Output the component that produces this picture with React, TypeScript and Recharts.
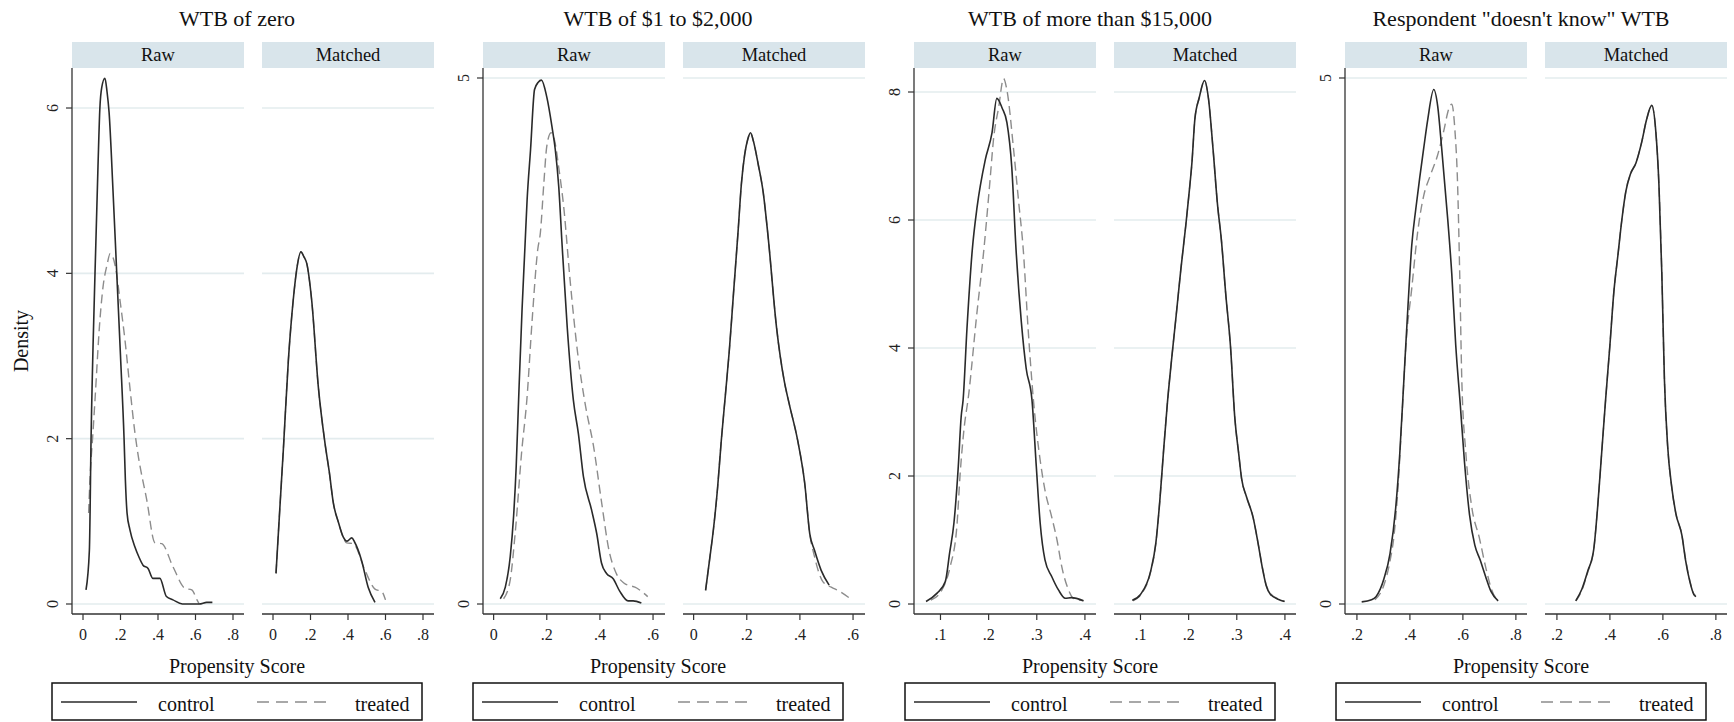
import { LineChart, Line, XAxis, YAxis, ReferenceLine } from 'recharts'

type Pt = [number, number]

const panelTitles = ['WTB of zero', 'WTB of $1 to $2,000', 'WTB of more than $15,000', 'Respondent "doesn\'t know" WTB']
const facetLabels = ['Raw', 'Matched']
const seriesNames = ['control', 'treated']
const xTitle = 'Propensity Score'
const yTitle = 'Density'

// WTB of zero
const zeroRawControl: Pt[] = [
  [0.016, 0.17], [0.034, 0.65], [0.043, 2.0], [0.064, 4.0], [0.08, 5.3], [0.09, 6.0], [0.1, 6.25],
  [0.117, 6.36], [0.128, 6.2], [0.139, 5.95], [0.16, 5.0], [0.18, 4.0], [0.2, 3.0], [0.219, 2.0],
  [0.226, 1.5], [0.235, 1.1], [0.25, 0.9], [0.277, 0.69], [0.3, 0.56], [0.32, 0.47], [0.347, 0.43],
  [0.373, 0.31], [0.41, 0.31], [0.445, 0.09], [0.48, 0.05], [0.53, 0], [0.62, 0], [0.66, 0.02], [0.69, 0.02],
]
const zeroRawTreated: Pt[] = [
  [0.03, 1.1], [0.037, 1.5], [0.053, 2.07], [0.064, 2.47], [0.09, 3.43], [0.107, 3.84], [0.128, 4.1],
  [0.145, 4.24], [0.155, 4.22], [0.176, 4.04], [0.197, 3.68], [0.224, 3.19], [0.25, 2.62], [0.277, 2.07],
  [0.29, 1.86], [0.34, 1.26], [0.384, 0.74], [0.42, 0.73], [0.48, 0.45], [0.544, 0.19], [0.58, 0.17],
  [0.608, 0.05], [0.62, 0],
]
const zeroMatchedControl: Pt[] = [
  [0.016, 0.37], [0.037, 1.18], [0.055, 1.86], [0.082, 2.95], [0.108, 3.68], [0.126, 4.04], [0.149, 4.26],
  [0.165, 4.2], [0.18, 4.12], [0.206, 3.68], [0.242, 2.62], [0.277, 1.95], [0.3, 1.6], [0.322, 1.22],
  [0.35, 0.98], [0.375, 0.81], [0.395, 0.76], [0.42, 0.8], [0.435, 0.75], [0.472, 0.53], [0.508, 0.2], [0.544, 0.02],
]
const zeroMatchedTreated: Pt[] = [
  [0.016, 0.37], [0.037, 1.18], [0.055, 1.86], [0.082, 2.95], [0.108, 3.68], [0.126, 4.04], [0.149, 4.26],
  [0.165, 4.2], [0.18, 4.12], [0.206, 3.68], [0.242, 2.62], [0.277, 1.95], [0.3, 1.6], [0.322, 1.22],
  [0.35, 0.98], [0.375, 0.8], [0.393, 0.74], [0.428, 0.73], [0.49, 0.41], [0.544, 0.18], [0.58, 0.15], [0.6, 0.05],
]

// WTB of $1 to $2,000
const lowRawControl: Pt[] = [
  [0.025, 0.05], [0.044, 0.16], [0.0625, 0.45], [0.075, 0.83], [0.085, 1.31], [0.094, 1.94], [0.107, 2.8],
  [0.118, 3.4], [0.126, 3.84], [0.139, 4.32], [0.154, 4.89], [0.168, 4.96], [0.18, 4.98], [0.2, 4.82],
  [0.22, 4.53], [0.232, 4.32], [0.245, 3.97], [0.258, 3.4], [0.277, 2.63], [0.3, 1.94], [0.319, 1.62],
  [0.338, 1.21], [0.369, 0.89], [0.388, 0.67], [0.406, 0.39], [0.425, 0.29], [0.45, 0.24], [0.475, 0.12],
  [0.506, 0.03], [0.525, 0.03], [0.556, 0.01],
]
const lowRawTreated: Pt[] = [
  [0.0375, 0.05], [0.0625, 0.23], [0.081, 0.67], [0.106, 1.46], [0.125, 1.94], [0.145, 2.7], [0.166, 3.37],
  [0.176, 3.53], [0.189, 4.0], [0.2, 4.35], [0.216, 4.48], [0.23, 4.4], [0.245, 4.15], [0.264, 3.77],
  [0.287, 3.1], [0.316, 2.39], [0.346, 1.88], [0.376, 1.5], [0.405, 0.99], [0.435, 0.5], [0.46, 0.3],
  [0.49, 0.2], [0.54, 0.15], [0.58, 0.07],
]
const lowMatchedControl: Pt[] = [
  [0.045, 0.13], [0.06, 0.42], [0.075, 0.72], [0.09, 1.1], [0.104, 1.55], [0.12, 2.0], [0.134, 2.4],
  [0.15, 2.95], [0.167, 3.53], [0.18, 4.0], [0.192, 4.27], [0.204, 4.42], [0.214, 4.48], [0.225, 4.4],
  [0.243, 4.18], [0.262, 3.91], [0.28, 3.5], [0.312, 2.63], [0.341, 2.12], [0.36, 1.9], [0.392, 1.55],
  [0.418, 1.15], [0.437, 0.67], [0.455, 0.51], [0.48, 0.32], [0.51, 0.18],
]
const lowMatchedTreated: Pt[] = [
  [0.045, 0.13], [0.06, 0.42], [0.075, 0.72], [0.09, 1.1], [0.104, 1.55], [0.12, 2.0], [0.134, 2.4],
  [0.15, 2.95], [0.167, 3.53], [0.18, 4.0], [0.192, 4.27], [0.204, 4.42], [0.214, 4.48], [0.225, 4.4],
  [0.243, 4.18], [0.262, 3.91], [0.28, 3.5], [0.312, 2.63], [0.341, 2.12], [0.36, 1.9], [0.392, 1.55],
  [0.418, 1.15], [0.437, 0.67], [0.455, 0.45], [0.487, 0.21], [0.518, 0.16], [0.55, 0.12], [0.585, 0.06],
]

// WTB of more than $15,000
const highRawControl: Pt[] = [
  [0.07, 0.04], [0.093, 0.17], [0.11, 0.35], [0.119, 0.8], [0.128, 1.27], [0.137, 2.15], [0.143, 2.93],
  [0.147, 3.19], [0.155, 4.3], [0.166, 5.53], [0.176, 6.2], [0.193, 6.94], [0.207, 7.36], [0.217, 7.9],
  [0.228, 7.75], [0.238, 7.52], [0.248, 6.83], [0.257, 5.53], [0.268, 4.4], [0.278, 3.68], [0.29, 3.19],
  [0.299, 2.15], [0.307, 1.27], [0.317, 0.69], [0.331, 0.43], [0.345, 0.22], [0.359, 0.09], [0.372, 0.1], [0.397, 0.05],
]
const highRawTreated: Pt[] = [
  [0.08, 0.06], [0.103, 0.22], [0.12, 0.58], [0.134, 1.21], [0.141, 2.05], [0.148, 2.67], [0.159, 3.3],
  [0.175, 4.5], [0.19, 5.53], [0.203, 6.63], [0.21, 7.25], [0.221, 7.77], [0.231, 8.21], [0.238, 8.03],
  [0.252, 7.09], [0.262, 6.31], [0.272, 5.53], [0.282, 4.3], [0.293, 3.19], [0.307, 2.25], [0.317, 1.78],
  [0.331, 1.36], [0.342, 1.0], [0.352, 0.58], [0.366, 0.22], [0.376, 0.09], [0.397, 0.05],
]
const highMatchedControl: Pt[] = [
  [0.083, 0.06], [0.1, 0.15], [0.121, 0.51], [0.132, 0.96], [0.14, 1.6], [0.148, 2.4], [0.156, 3.15],
  [0.165, 3.85], [0.174, 4.5], [0.184, 5.24], [0.194, 5.91], [0.2, 6.35], [0.207, 6.91], [0.213, 7.58],
  [0.222, 7.91], [0.233, 8.18], [0.241, 7.91], [0.251, 7.08], [0.26, 6.24], [0.268, 5.69], [0.277, 4.85],
  [0.287, 4.02], [0.296, 2.9], [0.304, 2.35], [0.31, 1.96], [0.32, 1.68], [0.334, 1.35], [0.344, 0.96],
  [0.353, 0.57], [0.361, 0.29], [0.37, 0.15], [0.387, 0.07], [0.399, 0.04],
]
const highMatchedTreated: Pt[] = [
  [0.084, 0.05], [0.1, 0.14], [0.121, 0.5], [0.132, 0.95], [0.14, 1.6], [0.148, 2.4], [0.156, 3.15],
  [0.165, 3.85], [0.174, 4.5], [0.184, 5.24], [0.194, 5.91], [0.2, 6.35], [0.207, 6.91], [0.213, 7.58],
  [0.222, 7.91], [0.233, 8.18], [0.241, 7.91], [0.251, 7.08], [0.26, 6.24], [0.268, 5.69], [0.277, 4.85],
  [0.287, 4.02], [0.296, 2.9], [0.304, 2.35], [0.31, 1.96], [0.32, 1.68], [0.334, 1.35], [0.344, 0.96],
  [0.353, 0.58], [0.361, 0.3], [0.37, 0.16], [0.389, 0.07], [0.4, 0.04],
]

// Respondent "doesn't know" WTB
const dkRawControl: Pt[] = [
  [0.218, 0.02], [0.255, 0.04], [0.272, 0.07], [0.302, 0.24], [0.325, 0.48], [0.347, 0.93], [0.362, 1.44],
  [0.377, 2.12], [0.392, 2.8], [0.407, 3.41], [0.422, 3.75], [0.437, 4.05], [0.452, 4.33], [0.467, 4.6],
  [0.49, 4.89], [0.505, 4.73], [0.52, 4.33], [0.543, 3.65], [0.558, 3.14], [0.573, 2.46], [0.59, 1.9],
  [0.606, 1.35], [0.625, 0.85], [0.645, 0.56], [0.665, 0.42], [0.686, 0.26], [0.706, 0.12], [0.733, 0.03],
]
const dkRawTreated: Pt[] = [
  [0.268, 0.04], [0.302, 0.18], [0.325, 0.41], [0.34, 0.65], [0.355, 1.1], [0.37, 1.78], [0.385, 2.46],
  [0.407, 3.0], [0.43, 3.55], [0.452, 3.88], [0.475, 4.06], [0.505, 4.27], [0.528, 4.5], [0.546, 4.7],
  [0.558, 4.75], [0.57, 4.5], [0.58, 3.99], [0.588, 3.14], [0.596, 2.12], [0.611, 1.44], [0.633, 0.93],
  [0.663, 0.62], [0.686, 0.35], [0.708, 0.14], [0.731, 0.03],
]
const dkMatchedControl: Pt[] = [
  [0.271, 0.03], [0.294, 0.14], [0.316, 0.31], [0.339, 0.52], [0.354, 0.93], [0.369, 1.44], [0.384, 1.95],
  [0.4, 2.46], [0.415, 2.97], [0.43, 3.31], [0.445, 3.65], [0.46, 3.92], [0.478, 4.09], [0.498, 4.19],
  [0.52, 4.39], [0.538, 4.6], [0.558, 4.74], [0.573, 4.5], [0.585, 3.99], [0.596, 3.14], [0.606, 2.12],
  [0.618, 1.5], [0.634, 1.1], [0.649, 0.86], [0.672, 0.65], [0.686, 0.41], [0.702, 0.21], [0.717, 0.09], [0.725, 0.07],
]
const dkMatchedTreated: Pt[] = [
  [0.272, 0.03], [0.294, 0.13], [0.316, 0.3], [0.339, 0.52], [0.354, 0.93], [0.369, 1.44], [0.384, 1.95],
  [0.4, 2.46], [0.415, 2.97], [0.43, 3.31], [0.445, 3.65], [0.46, 3.92], [0.478, 4.09], [0.498, 4.19],
  [0.52, 4.39], [0.538, 4.6], [0.558, 4.74], [0.573, 4.5], [0.585, 3.99], [0.596, 3.14], [0.606, 2.12],
  [0.618, 1.5], [0.634, 1.1], [0.649, 0.86], [0.672, 0.65], [0.686, 0.42], [0.702, 0.22], [0.716, 0.1], [0.724, 0.08],
]

const xTicksZero = [0, 0.2, 0.4, 0.6, 0.8]
const xTicksLow = [0, 0.2, 0.4, 0.6]
const xTicksHigh = [0.1, 0.2, 0.3, 0.4]
const xTicksDk = [0.2, 0.4, 0.6, 0.8]
const yTicksZero = [0, 2, 4, 6]
const yTicksLow = [0, 5]
const yTicksHigh = [0, 2, 4, 6, 8]
const yTicksDk = [0, 5]

const FONT = "'Liberation Serif', 'Times New Roman', serif"
const STRIP_TOP = 42
const STRIP_H = 26
const PLOT_TOP = 68
const PLOT_H = 546
const XAXIS_H = 40
const CONTROL = '#2a2a2a'
const TREATED = '#8c8c8c'
const AXIS = '#333333'
const GRID = '#e3ecee'

const toRows = (pts: Pt[]) => pts.map(([x, y]) => ({ x, y }))
const fmtX = (v: number) => (v === 0 ? '0' : String(v).replace(/^0/, ''))

const panels = [
  {
    center: 237, xDomain: [-0.0587, 0.8587], yDomain: [-0.121, 6.484], xTicks: xTicksZero, yTicks: yTicksZero,
    facets: [
      { left: 72, right: 244, control: zeroRawControl, treated: zeroRawTreated },
      { left: 262, right: 434, control: zeroMatchedControl, treated: zeroMatchedTreated },
    ],
  },
  {
    center: 658, xDomain: [-0.04, 0.645], yDomain: [-0.095, 5.095], xTicks: xTicksLow, yTicks: yTicksLow,
    facets: [
      { left: 483, right: 665, control: lowRawControl, treated: lowRawTreated },
      { left: 683, right: 865, control: lowMatchedControl, treated: lowMatchedTreated },
    ],
  },
  {
    center: 1090, xDomain: [0.045, 0.423], yDomain: [-0.156, 8.375], xTicks: xTicksHigh, yTicks: yTicksHigh,
    facets: [
      { left: 914, right: 1096, control: highRawControl, treated: highRawTreated },
      { left: 1114, right: 1296, control: highMatchedControl, treated: highMatchedTreated },
    ],
  },
  {
    center: 1521, xDomain: [0.155, 0.842], yDomain: [-0.095, 5.095], xTicks: xTicksDk, yTicks: yTicksDk,
    facets: [
      { left: 1345, right: 1527, control: dkRawControl, treated: dkRawTreated },
      { left: 1545, right: 1727, control: dkMatchedControl, treated: dkMatchedTreated },
    ],
  },
]

function YTick(props: any) {
  const { x, y, payload } = props
  const bx = x - 6
  return (
    <text x={bx} y={y} transform={`rotate(-90 ${bx} ${y})`} textAnchor="middle"
      fontSize={16} fontFamily={FONT} fill="#222">
      {payload.value}
    </text>
  )
}

function Facet({ label, left, right, showY, xDomain, yDomain, xTicks, yTicks, control, treated }: any) {
  const yw = showY ? 30 : 0
  const w = right - left + yw
  return (
    <div style={{ position: 'absolute', left: left - yw, top: STRIP_TOP, width: w }}>
      <div style={{
        marginLeft: yw, height: STRIP_H, background: '#d9e5eb', textAlign: 'center',
        fontFamily: FONT, fontSize: 18.5, lineHeight: `${STRIP_H}px`, color: '#111',
      }}>
        {label}
      </div>
      <LineChart width={w} height={PLOT_H + XAXIS_H} margin={{ top: 0, right: 0, bottom: 0, left: 0 }}>
        <XAxis type="number" dataKey="x" domain={xDomain} ticks={xTicks} allowDataOverflow interval={0}
          tickFormatter={fmtX} height={XAXIS_H} tickSize={6} tickMargin={9}
          axisLine={{ stroke: AXIS, strokeWidth: 1.3 }} tickLine={{ stroke: AXIS, strokeWidth: 1.2 }}
          tick={{ fontSize: 16, fill: '#222', fontFamily: FONT }} />
        <YAxis type="number" domain={yDomain} ticks={yTicks} allowDataOverflow interval={0}
          hide={!showY} width={yw} tickSize={6}
          axisLine={{ stroke: AXIS, strokeWidth: 1.3 }} tickLine={{ stroke: AXIS, strokeWidth: 1.2 }}
          tick={<YTick />} />
        {yTicks.map((v: number) => (
          <ReferenceLine key={v} y={v} stroke={GRID} strokeWidth={1.6} />
        ))}
        <Line data={toRows(treated)} dataKey="y" name={seriesNames[1]} type="monotoneX" stroke={TREATED}
          strokeWidth={1.4} strokeDasharray="9 5" dot={false} activeDot={false} isAnimationActive={false} />
        <Line data={toRows(control)} dataKey="y" name={seriesNames[0]} type="monotoneX" stroke={CONTROL}
          strokeWidth={1.6} dot={false} activeDot={false} isAnimationActive={false} />
      </LineChart>
    </div>
  )
}

function LegendBox({ center }: { center: number }) {
  const bx = center - 185
  return (
    <g>
      <rect x={bx} y={683} width={370} height={37} fill="#fff" stroke="#111" strokeWidth={1.5} />
      <line x1={bx + 9} x2={bx + 85} y1={702} y2={702} stroke={CONTROL} strokeWidth={1.6} />
      <text x={bx + 106} y={711} fontSize={20} fontFamily={FONT} fill="#111">{seriesNames[0]}</text>
      <line x1={bx + 205} x2={bx + 281} y1={702} y2={702} stroke={TREATED} strokeWidth={1.4} strokeDasharray="12 7" />
      <text x={bx + 303} y={711} fontSize={20} fontFamily={FONT} fill="#111">{seriesNames[1]}</text>
    </g>
  )
}

export default function App() {
  return (
    <div style={{ position: 'absolute', left: 0, top: 0, width: 1734, height: 722, background: '#fff', overflow: 'hidden' }}>
      {panels.map((p, pi) =>
        p.facets.map((f, fi) => (
          <Facet key={`${pi}-${fi}`} label={facetLabels[fi]} left={f.left} right={f.right} showY={fi === 0}
            xDomain={p.xDomain} yDomain={p.yDomain} xTicks={p.xTicks} yTicks={p.yTicks}
            control={f.control} treated={f.treated} />
        ))
      )}
      <svg width={1734} height={722} style={{ position: 'absolute', left: 0, top: 0, pointerEvents: 'none' }}>
        {panels.map((p, i) => (
          <g key={i}>
            <text x={p.center} y={26} textAnchor="middle" fontSize={22} fontFamily={FONT} fill="#111">
              {panelTitles[i]}
            </text>
            <text x={p.center} y={673} textAnchor="middle" fontSize={20} fontFamily={FONT} fill="#111">
              {xTitle}
            </text>
            <LegendBox center={p.center} />
          </g>
        ))}
        <text x={28} y={PLOT_TOP + PLOT_H / 2} transform={`rotate(-90 28 ${PLOT_TOP + PLOT_H / 2})`}
          textAnchor="middle" fontSize={20} fontFamily={FONT} fill="#111">
          {yTitle}
        </text>
      </svg>
    </div>
  )
}
